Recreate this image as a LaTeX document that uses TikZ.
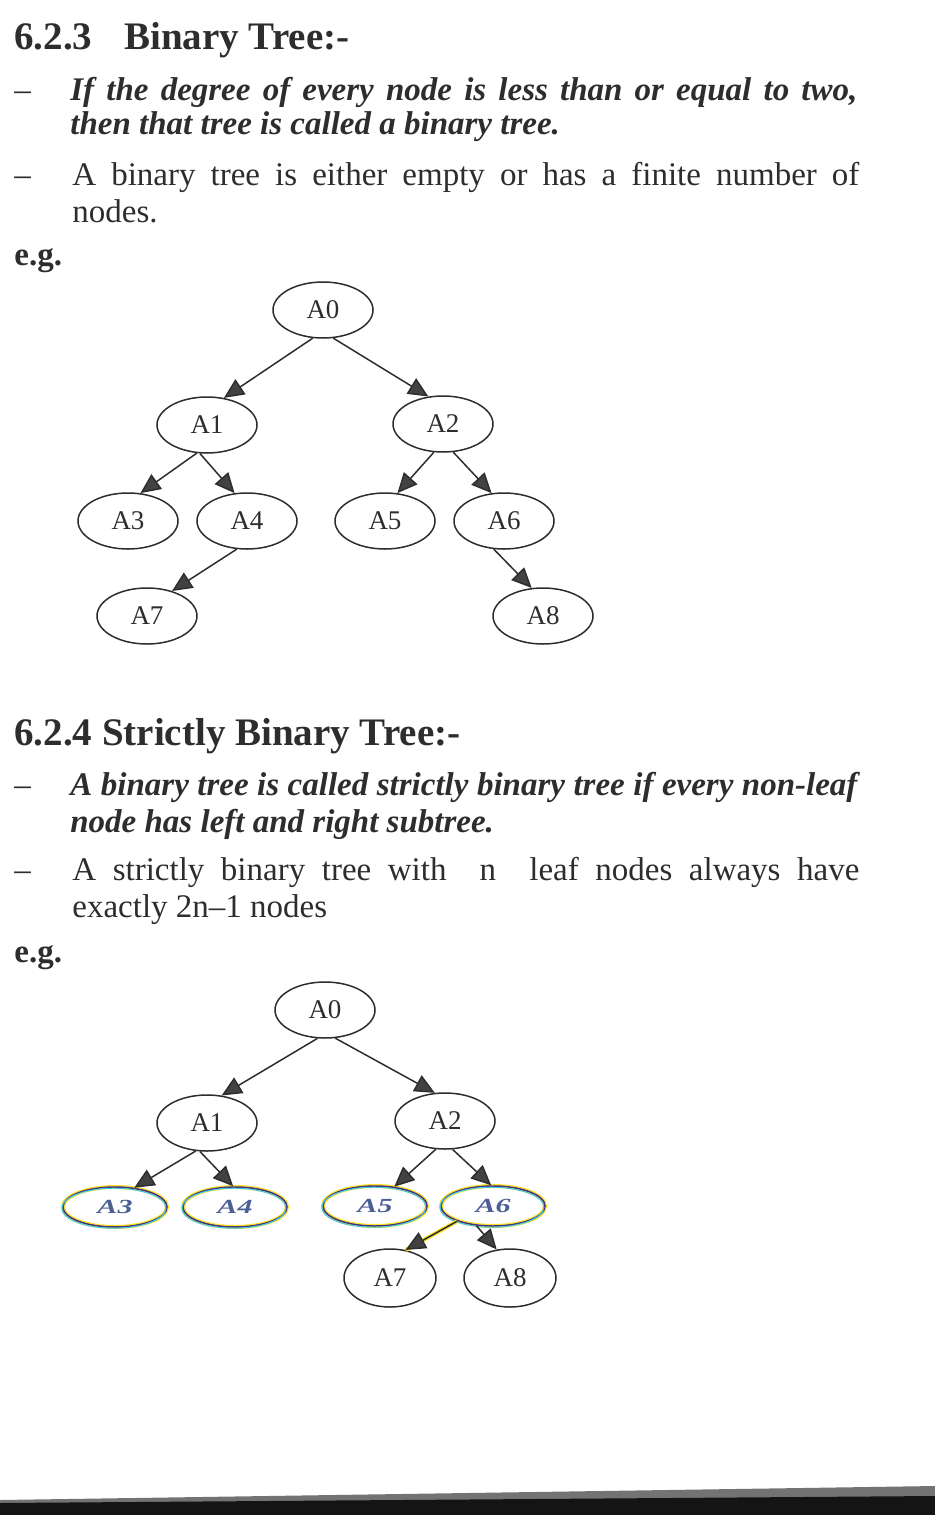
\documentclass[tikz,border=0pt]{standalone}
\usepackage{fontspec}
\setmainfont{Liberation Serif}
\usetikzlibrary{arrows.meta,shapes.geometric}
\definecolor{inkgrey}{RGB}{45,45,45}
\definecolor{leafline}{RGB}{70,50,130}
\definecolor{leafcyan}{RGB}{60,200,235}
\definecolor{leafyellow}{RGB}{250,225,40}
\definecolor{leaftext}{RGB}{75,95,150}
\newcommand{\bodyfont}{\fontsize{16.5pt}{20pt}\selectfont}
\newcommand{\headfont}{\fontsize{19.5pt}{23pt}\selectfont\bfseries}
\newcommand{\fullline}[1]{\makebox[393.5pt][s]{#1}}
\newcommand{\squash}[1]{\scalebox{1.2}[0.8]{#1}}

\begin{document}
\begin{tikzpicture}[x=0.5pt,y=-0.5pt,
  txt/.style={anchor=base west,inner sep=0pt,text=inkgrey,font=\bodyfont},
  head/.style={anchor=base west,inner sep=0pt,text=inkgrey,font=\headfont},
  tnode/.style={ellipse,draw=inkgrey,line width=0.75pt,inner sep=0pt,
    minimum width=50pt,minimum height=28pt,text=inkgrey,
    font=\fontsize{13.5pt}{16pt}\selectfont},
  smallnode/.style={tnode,minimum width=46pt,minimum height=29pt},
  leafnode/.style={tnode,minimum width=52pt,minimum height=20pt,draw=leafline,
    text=leaftext,font=\fontsize{12.5pt}{14pt}\selectfont\bfseries\itshape,
    preaction={draw=leafyellow,line width=2pt},
    postaction={draw=leafcyan,line width=0.5pt,transform canvas={xshift=-0.6pt,yshift=-0.6pt}}},
  link/.style={draw=inkgrey,line width=0.75pt,
    -{Triangle[length=10pt,width=9pt,fill=inkgrey!90]}},
  tinted/.style={link,preaction={draw=leafyellow,line width=2pt,-}}]
\useasboundingbox (0,0) rectangle (935,1515);

% first section
\node[head] (h1) at (14,49) {6.2.3\hspace{16pt}Binary Tree:-};
\node[txt] (d1) at (14,100) {--};
\node[txt] (l1) at (70,100) {\fullline{\bfseries\itshape If the degree of every node is less than or equal to two,}};
\node[txt] (l2) at (70,134) {\bfseries\itshape then that tree is called a binary tree.};
\node[txt] (d2) at (14,185) {--};
\node[txt] (l3) at (72,185) {\fullline{A binary tree is either empty or has a finite number of}};
\node[txt] (l4) at (72,222) {nodes.};
\node[txt] (eg1) at (14,265) {\bfseries e.g.};

% binary tree
\node[tnode] (a0) at (323,310) {A0};
\node[tnode] (a1) at (207,425) {A1};
\node[tnode] (a2) at (443,424) {A2};
\node[tnode] (a3) at (128,521) {A3};
\node[tnode] (a4) at (247,521) {A4};
\node[tnode] (a5) at (385,521) {A5};
\node[tnode] (a6) at (504,521) {A6};
\node[tnode] (a7) at (147,616) {A7};
\node[tnode] (a8) at (543,616) {A8};
\foreach \p/\pa/\c/\ca in {a0/-110/a1/58,a0/-70/a2/118,a1/-110/a3/66,a1/-104/a4/114,
    a2/-108/a5/66,a2/-70/a6/114,a4/-110/a7/45,a6/-110/a8/112}
  \draw[link] (\p.\pa) -- (\c.\ca);

% second section
\node[head] (h2) at (14,745) {6.2.4 Strictly Binary Tree:-};
\node[txt] (d3) at (14,795) {--};
\node[txt] (m1) at (70,795) {\fullline{\bfseries\itshape A binary tree is called strictly binary tree if every non-leaf}};
\node[txt] (m2) at (70,832) {\bfseries\itshape node has left and right subtree.};
\node[txt] (d4) at (14,880) {--};
\node[txt] (m3) at (72,880) {\fullline{A strictly binary tree with~~n~~leaf nodes always have}};
\node[txt] (m4) at (72,917) {exactly 2n--1 nodes};
\node[txt] (eg2) at (14,962) {\bfseries e.g.};

% strictly binary tree
\node[tnode] (b0) at (325,1010) {A0};
\node[tnode] (b1) at (207,1123) {A1};
\node[tnode] (b2) at (445,1121) {A2};
\node[leafnode] (b3) at (115,1207) {\squash{A3}};
\node[leafnode] (b4) at (235,1207) {\squash{A4}};
\node[leafnode] (b5) at (375,1206) {\squash{A5}};
\node[leafnode] (b6) at (493,1206) {\squash{A6}};
\node[smallnode] (b7) at (390,1278) {A7};
\node[smallnode] (b8) at (510,1278) {A8};
\foreach \p/\pa/\c/\ca in {b0/-105/b1/62,b0/-70/b2/110,b1/-112/b3/45,b1/-104/b4/95,
    b2/-108/b5/45,b2/-75/b6/95,b6/-130/b8/115}
  \draw[link] (\p.\pa) -- (\c.\ca);
\draw[tinted] (b6.-157) -- (b7.61);

% scanner edge
\fill[black!55] (0,1500) -- (935,1486) -- (935,1497) -- (0,1504) -- cycle;
\fill[black!92] (0,1503) -- (935,1496) -- (935,1515) -- (0,1515) -- cycle;
\end{tikzpicture}
\end{document}
